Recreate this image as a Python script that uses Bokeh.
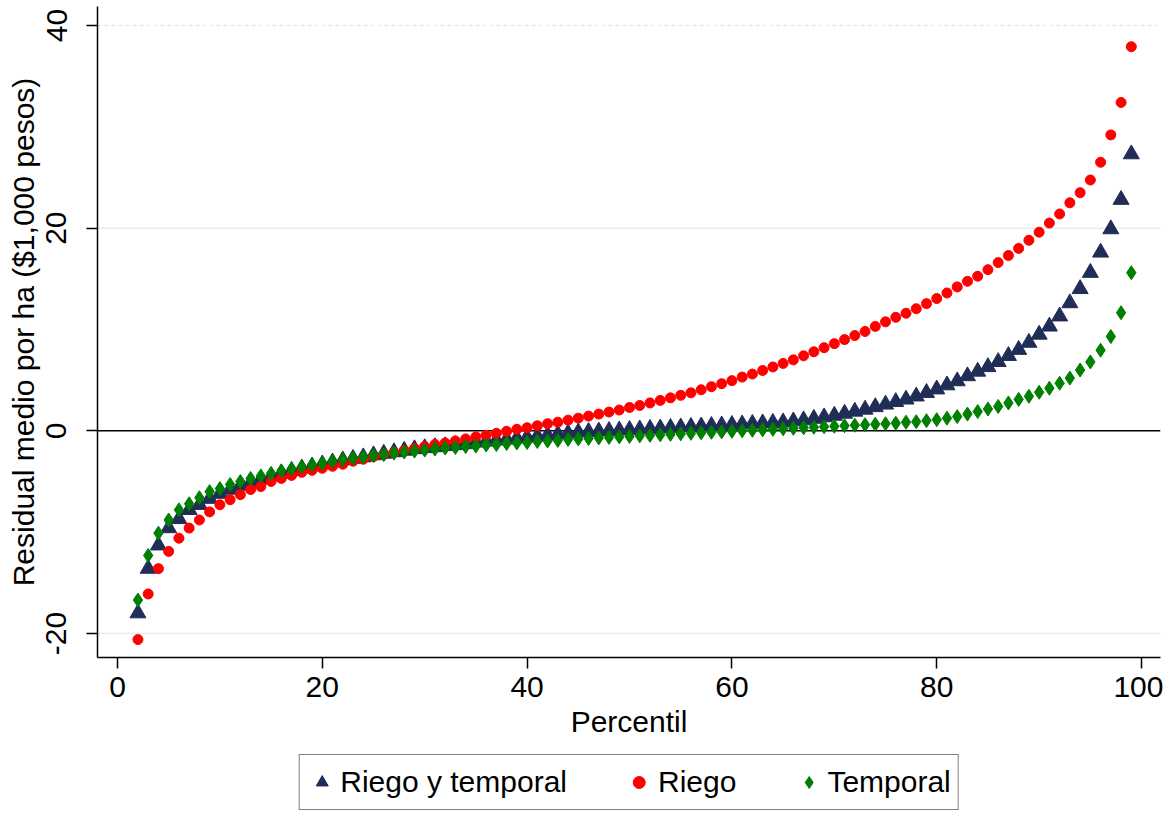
from bokeh.plotting import figure
from bokeh.layouts import column
from bokeh.models import Range1d, Span, Legend, LegendItem, FixedTicker, ColumnDataSource
from bokeh.embed import file_html
from bokeh.resources import INLINE

percentil = list(range(2, 100))

riego_y_temporal = [
    -18.0, -13.6, -11.3, -9.6, -8.7, -7.8, -7.3, -6.7, -6.2, -5.8,
    -5.4, -5.1, -4.8, -4.5, -4.2, -3.95, -3.7, -3.5, -3.3, -3.1,
    -2.9, -2.75, -2.6, -2.4, -2.25, -2.1, -1.95, -1.8, -1.7, -1.6,
    -1.5, -1.4, -1.3, -1.15, -1.05, -0.95, -0.85, -0.75, -0.65, -0.55,
    -0.45, -0.35, -0.25, -0.15, -0.1, -0.05, 0.0, 0.05, 0.1, 0.15,
    0.2, 0.25, 0.3, 0.35, 0.4, 0.45, 0.5, 0.55, 0.6, 0.65,
    0.7, 0.75, 0.8, 0.85, 0.95, 1.05, 1.2, 1.35, 1.5, 1.7,
    1.9, 2.1, 2.35, 2.6, 2.85, 3.1, 3.4, 3.75, 4.1, 4.5,
    4.9, 5.4, 5.85, 6.3, 6.8, 7.4, 8.0, 8.7, 9.5, 10.3,
    11.3, 12.6, 14.0, 15.6, 17.6, 19.9, 22.8, 27.3,
]

riego = [
    -20.6, -16.1, -13.6, -11.9, -10.6, -9.6, -8.8, -8.0, -7.3, -6.8,
    -6.3, -5.8, -5.5, -5.0, -4.7, -4.4, -4.1, -3.9, -3.7, -3.5,
    -3.3, -3.0, -2.8, -2.55, -2.35, -2.15, -1.95, -1.75, -1.55, -1.35,
    -1.2, -1.0, -0.8, -0.6, -0.45, -0.25, -0.05, 0.15, 0.3, 0.5,
    0.7, 0.85, 1.05, 1.25, 1.45, 1.65, 1.85, 2.05, 2.3, 2.5,
    2.75, 3.0, 3.25, 3.5, 3.75, 4.05, 4.35, 4.65, 4.95, 5.3,
    5.6, 5.95, 6.3, 6.65, 7.0, 7.4, 7.8, 8.2, 8.6, 9.0,
    9.4, 9.8, 10.3, 10.75, 11.2, 11.6, 12.05, 12.55, 13.05, 13.6,
    14.2, 14.75, 15.25, 15.9, 16.6, 17.3, 18.0, 18.8, 19.6, 20.5,
    21.4, 22.5, 23.5, 24.75, 26.5, 29.2, 32.4, 37.9,
]

temporal = [
    -16.7, -12.3, -10.1, -8.8, -7.8, -7.2, -6.6, -6.0, -5.7, -5.3,
    -5.0, -4.7, -4.45, -4.2, -3.95, -3.75, -3.55, -3.35, -3.2, -3.0,
    -2.85, -2.7, -2.6, -2.45, -2.35, -2.2, -2.1, -2.0, -1.9, -1.8,
    -1.7, -1.65, -1.55, -1.5, -1.4, -1.35, -1.25, -1.2, -1.15, -1.05,
    -1.0, -0.95, -0.85, -0.8, -0.75, -0.7, -0.65, -0.6, -0.55, -0.5,
    -0.45, -0.4, -0.35, -0.3, -0.25, -0.2, -0.15, -0.1, -0.05, 0.0,
    0.05, 0.1, 0.15, 0.2, 0.25, 0.3, 0.35, 0.4, 0.45, 0.5,
    0.55, 0.6, 0.65, 0.7, 0.75, 0.85, 0.9, 1.0, 1.1, 1.25,
    1.4, 1.65, 1.9, 2.15, 2.4, 2.75, 3.1, 3.4, 3.8, 4.2,
    4.7, 5.2, 6.0, 6.8, 7.95, 9.3, 11.65, 15.6,
]

x_ticks = [0, 20, 40, 60, 80, 100]
y_ticks = [-20, 0, 20, 40]
y_tick_labels = {-20: "-20", 0: "0", 20: "20", 40: "40"}
grid_solid = [-20, 20]
grid_dashed = [40]
series_labels = ["Riego y temporal", "Riego", "Temporal"]

FONT = "Liberation Sans"
FS = "30px"
NAVY, RED, GREEN = "#1f2d57", "#ff0000", "#008000"

p = figure(
    width=1163, height=750,
    x_range=Range1d(-1.95, 101.85), y_range=Range1d(-22.37, 41.87),
    output_backend="svg", toolbar_location=None,
    min_border_left=97, min_border_right=3, min_border_top=6, min_border_bottom=93,
)
p.outline_line_color = None
p.xgrid.visible = False
p.ygrid.visible = False
p.background_fill_color = "white"
p.border_fill_color = "white"

for v in grid_solid:
    p.add_layout(Span(location=v, dimension="width", line_color="#e4eced",
                      line_width=1.5, level="underlay"))
for v in grid_dashed:
    p.add_layout(Span(location=v, dimension="width", line_color="#e4eced",
                      line_width=1.5, line_dash="4 3", level="underlay"))
p.add_layout(Span(location=0, dimension="width", line_color="black",
                  line_width=1.5, level="underlay"))

for ax in (p.xaxis[0], p.yaxis[0]):
    ax.axis_line_color = "black"
    ax.axis_line_width = 1.5
    ax.major_tick_line_color = "black"
    ax.major_tick_line_width = 1.5
    ax.major_tick_out = 11
    ax.major_tick_in = 0
    ax.minor_tick_line_color = None
    ax.major_label_text_font = FONT
    ax.major_label_text_font_size = FS
    ax.major_label_text_color = "black"
    ax.axis_label_text_font = FONT
    ax.axis_label_text_font_size = FS
    ax.axis_label_text_font_style = "normal"
    ax.axis_label_text_color = "black"

p.xaxis[0].ticker = FixedTicker(ticks=x_ticks)
p.yaxis[0].ticker = FixedTicker(ticks=y_ticks)
p.yaxis[0].major_label_overrides = y_tick_labels
p.xaxis[0].axis_label = "Percentil"
p.yaxis[0].axis_label = "Residual medio por ha ($1,000 pesos)"
p.xaxis[0].major_label_standoff = 8
p.xaxis[0].axis_label_standoff = 5
p.yaxis[0].major_label_orientation = "vertical"
p.yaxis[0].major_label_standoff = 20
p.yaxis[0].axis_label_standoff = 4

src = ColumnDataSource(dict(x=percentil, a=riego_y_temporal, b=riego, c=temporal))

p.scatter("x", "a", source=src, marker="triangle", size=16,
          fill_color=NAVY, line_color=NAVY, line_width=1)
p.scatter("x", "b", source=src, marker="circle", size=10,
          fill_color=RED, line_color=RED, line_width=1)
p.scatter("x", "c", source=src, marker="diamond", size=14,
          fill_color=GREEN, line_color=GREEN, line_width=1)

# legend strip below the plot (key renderers sit outside the strip's visible range)
lg = figure(
    width=1163, height=63, x_range=Range1d(0, 1), y_range=Range1d(0, 1),
    output_backend="svg", toolbar_location=None,
    min_border_left=97, min_border_right=3, min_border_top=0, min_border_bottom=0,
)
lg.axis.visible = False
lg.grid.visible = False
lg.outline_line_color = None
lg.border_fill_color = "white"
key_src = ColumnDataSource(dict(x=[-5], y=[-5]))
k1 = lg.scatter("x", "y", source=key_src, marker="triangle", size=16,
                fill_color=NAVY, line_color=NAVY)
k2 = lg.scatter("x", "y", source=key_src, marker="circle", size=10,
                fill_color=RED, line_color=RED)
k3 = lg.scatter("x", "y", source=key_src, marker="diamond", size=14,
                fill_color=GREEN, line_color=GREEN)

legend = Legend(
    items=[LegendItem(label=series_labels[0], renderers=[k1]),
           LegendItem(label=series_labels[1], renderers=[k2]),
           LegendItem(label=series_labels[2], renderers=[k3])],
    orientation="horizontal",
    location="center",
    label_text_font=FONT, label_text_font_size=FS, label_text_color="black",
    glyph_width=30, glyph_height=40, label_standoff=4, spacing=57,
    padding=7, margin=0,
    border_line_color="black", border_line_width=1.5,
    background_fill_color="white", background_fill_alpha=1.0,
)
lg.add_layout(legend, "center")

open("out.html", "w").write(file_html(column(p, lg, spacing=0), INLINE))
